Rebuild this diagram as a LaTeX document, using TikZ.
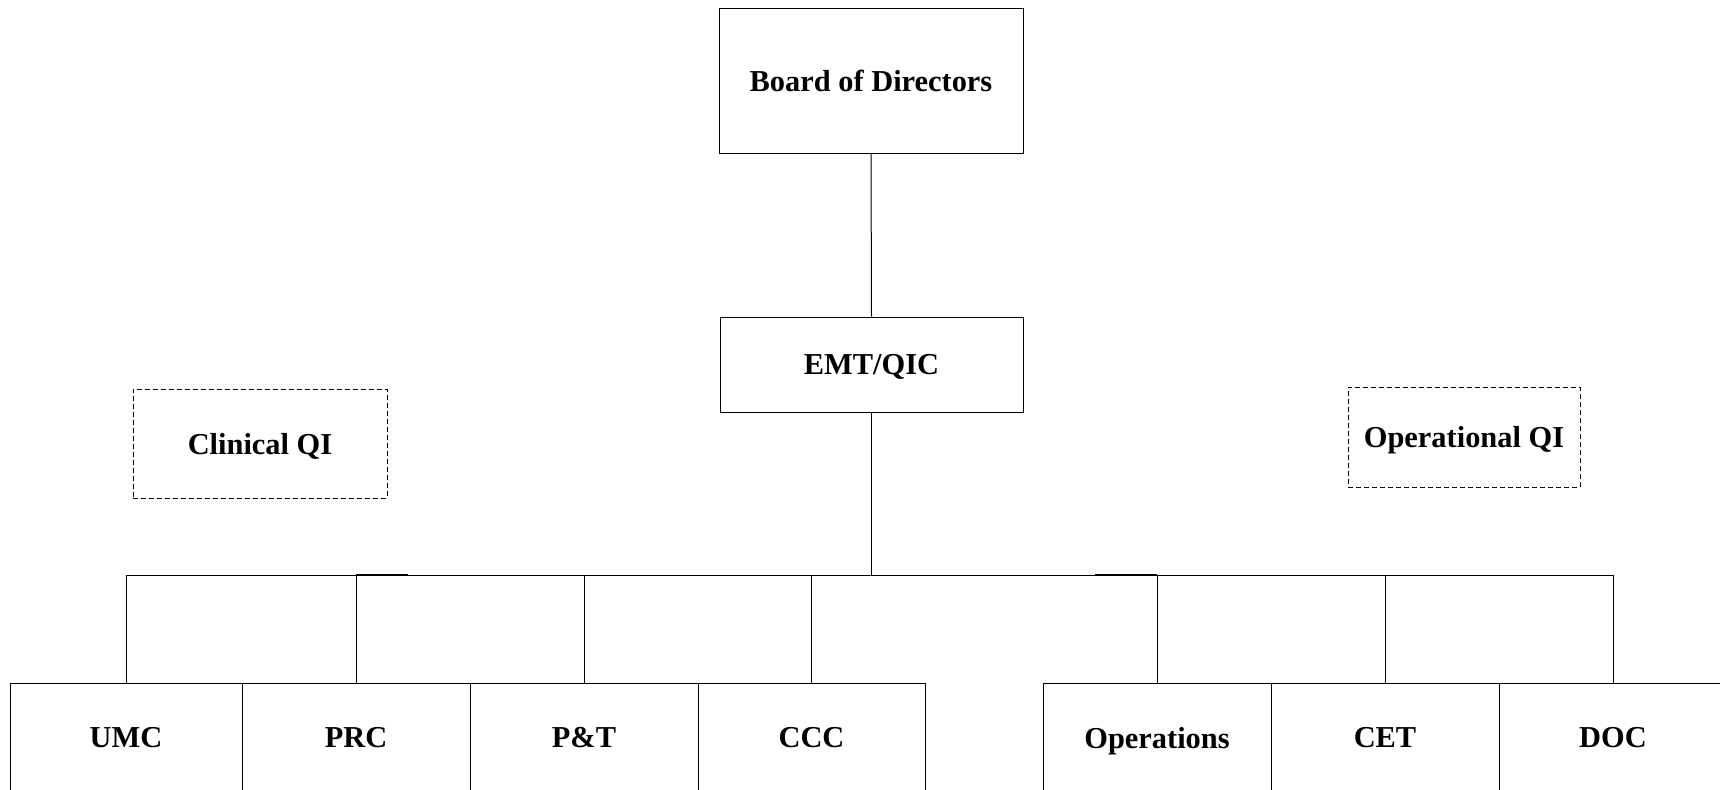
\documentclass[tikz,border=0pt]{standalone}
\usepackage{fontspec}
\setmainfont{Liberation Serif}
\begin{document}
\begin{tikzpicture}[x=0.5pt,y=-0.5pt,
  box/.style={draw=black,line width=0.5pt,rectangle,inner sep=0pt,text depth=0pt,font=\fontsize{15.2}{18}\selectfont\bfseries,fill=white},
  qibox/.style={box,dashed,dash pattern=on 2.5pt off 1.5pt},
  conn/.style={draw=black,line width=0.5pt}]
\useasboundingbox (0,0) rectangle (1720,789);
\clip (0,0) rectangle (1720,789);
\fill[white] (0,0) rectangle (1720,789);
% top nodes
\node[box,minimum width=152pt,minimum height=72.5pt] (board) at (871,80.5) {Board of Directors};
\node[box,minimum width=151.5pt,minimum height=47.5pt] (emt) at (871.5,364.5) {EMT/QIC};
\node[qibox,minimum width=127pt,minimum height=54.5pt] (clin) at (260,443.5) {Clinical QI};
\node[qibox,minimum width=116pt,minimum height=50pt] (oper) at (1464,437) {Operational QI};
% children
\node[box,minimum width=116pt,minimum height=54pt,anchor=north] (umc) at (126,683) {UMC};
\node[box,minimum width=114pt,minimum height=54pt,anchor=north] (prc) at (356,683) {PRC};
\node[box,minimum width=114pt,minimum height=54pt,anchor=north] (pt) at (584,683) {P\&T};
\node[box,minimum width=113.5pt,minimum height=54pt,anchor=north] (ccc) at (811.5,683) {CCC};
\node[box,minimum width=114pt,minimum height=54pt,anchor=north] (ops) at (1157,683) {Operations};
\node[box,minimum width=114pt,minimum height=54pt,anchor=north] (cet) at (1385,683) {CET};
\node[box,minimum width=114pt,minimum height=54pt,anchor=north] (docn) at (1613,683) {DOC};
\coordinate (bar) at (0,575);
% connectors
\draw[conn] (board.south) -- (emt.north);
\draw[conn] (emt.south) -- (emt.south |- bar);
\draw[conn] (umc.north) -- (umc.north |- bar) -- (docn.north |- bar) -- (docn.north);
\foreach \n in {prc,pt,ccc,ops,cet}{
  \draw[conn] (\n.north) -- (\n.north |- bar);
}
\draw[conn,line width=1pt] (prc.north |- bar) -- ++(52,0);
\draw[conn,line width=1pt] (ops.north |- bar) -- ++(-62,0);
\end{tikzpicture}
\end{document}
